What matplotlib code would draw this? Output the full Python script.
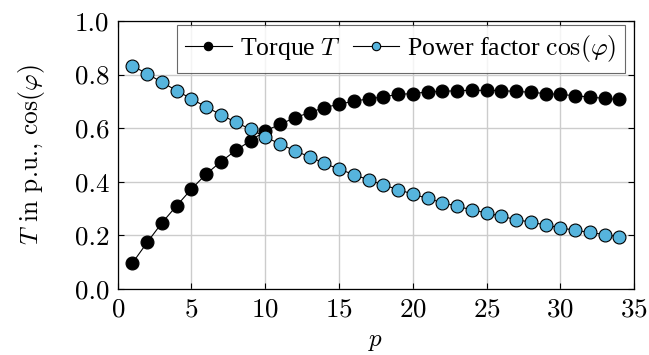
import matplotlib
matplotlib.use('Agg')
import matplotlib.pyplot as plt
import numpy as np

plt.rcParams['font.family'] = 'cmr10'
plt.rcParams['mathtext.fontset'] = 'cm'
plt.rcParams['axes.unicode_minus'] = False
plt.rcParams['axes.formatter.use_mathtext'] = True

p = np.arange(1, 35)
torque = [0.097, 0.174, 0.247, 0.311, 0.373, 0.429, 0.475, 0.517, 0.553, 0.590,
          0.614, 0.639, 0.658, 0.677, 0.689, 0.701, 0.709, 0.717, 0.726, 0.729,
          0.735, 0.737, 0.740, 0.741, 0.741, 0.740, 0.737, 0.734, 0.729, 0.726,
          0.721, 0.716, 0.711, 0.707]
power_factor = [0.832, 0.803, 0.771, 0.740, 0.709, 0.679, 0.650, 0.622, 0.596, 0.567,
                0.541, 0.516, 0.493, 0.469, 0.447, 0.427, 0.407, 0.388, 0.371, 0.354,
                0.338, 0.322, 0.309, 0.295, 0.284, 0.271, 0.259, 0.249, 0.239, 0.228,
                0.219, 0.211, 0.203, 0.194]
yticks = [0.0, 0.2, 0.4, 0.6, 0.8, 1.0]

fig = plt.figure(figsize=(6.49, 3.55), dpi=100)
ax = fig.add_axes([0.1814, 0.186, 0.7956, 0.755])

ax.plot(p, torque, color='black', lw=0.8, marker='o', ms=9.3,
        mfc='black', mec='black', mew=0.8, label=r'Torque $T$')
ax.plot(p, power_factor, color='black', lw=0.8, marker='o', ms=9.3,
        mfc='#56B4DD', mec='black', mew=0.8, label=r'Power factor $\cos(\varphi)$')

ax.set_xlim(0, 35)
ax.set_ylim(0, 1)
ax.set_xticks(np.arange(0, 36, 5))
ax.set_yticks(yticks)
ax.set_yticklabels(['%.1f' % v for v in yticks])
ax.grid(True, color='#cccccc', lw=1)
ax.set_axisbelow(True)
ax.tick_params(direction='in', top=True, right=True, labelsize=19.5, length=4, pad=6)
for s in ax.spines.values():
    s.set_linewidth(0.9)

ax.set_xlabel(r'$p$', fontsize=18, labelpad=7)
ax.set_ylabel(r'$T$ in p.u., $\cos(\varphi)$', fontsize=18.3)
ax.yaxis.set_label_coords(-0.137, 0.5)

leg = ax.legend(loc='upper right', bbox_to_anchor=(0.9826, 0.985), ncol=2,
                prop={'family': 'Liberation Serif', 'size': 18.5},
                frameon=True, fancybox=False, edgecolor='#444444',
                handlelength=1.8, handletextpad=0.33, columnspacing=0.45,
                borderpad=0.33, borderaxespad=0, markerscale=0.65)
leg.get_frame().set_linewidth(0.8)

fig.savefig('out.png', dpi=100)
